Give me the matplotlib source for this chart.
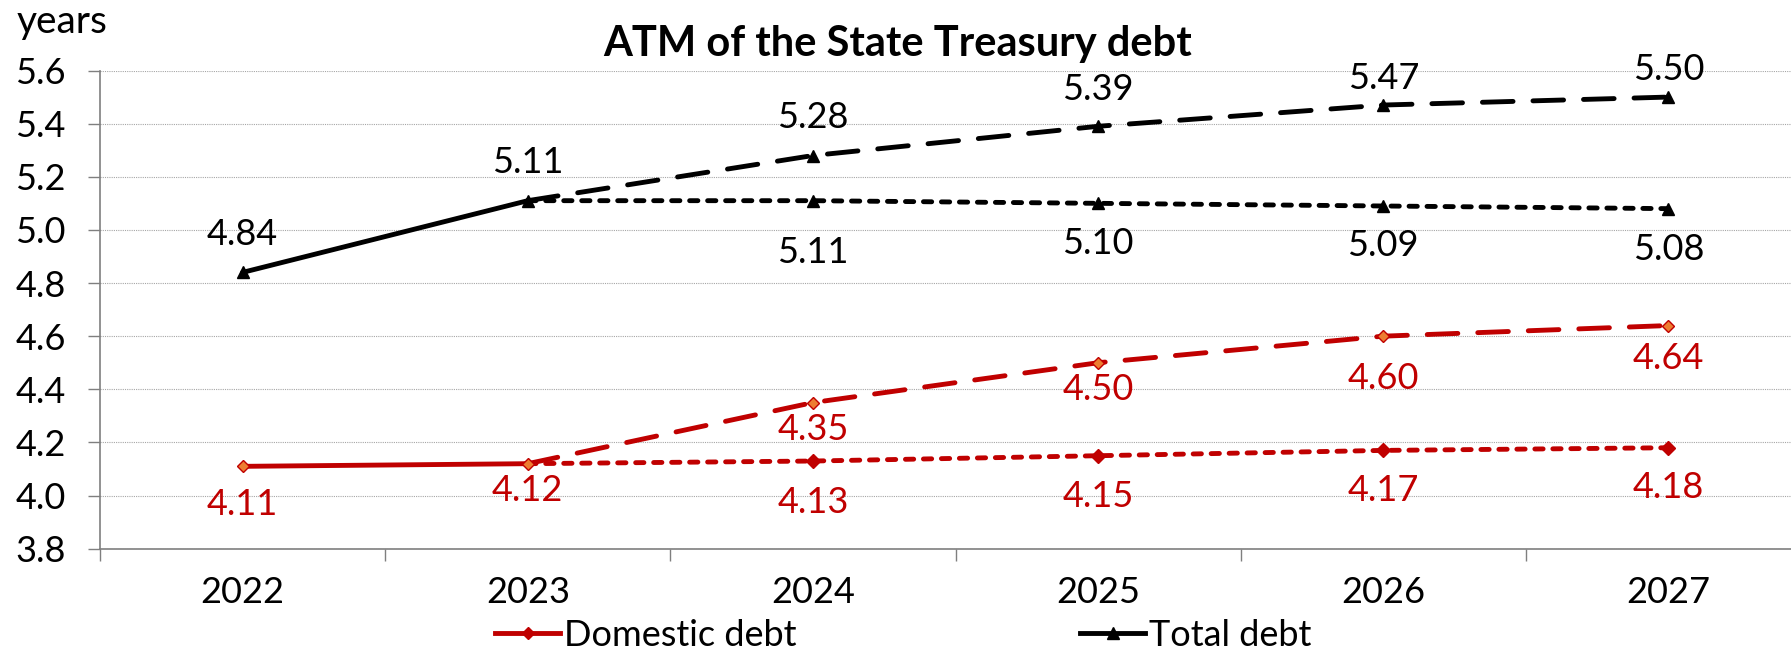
import matplotlib
matplotlib.use("Agg")
import matplotlib.pyplot as plt
from matplotlib.lines import Line2D
import numpy as np

plt.rcParams['font.family'] = ['Lato', 'DejaVu Sans']

# ---- data ----
years = ['2022', '2023', '2024', '2025', '2026', '2027']
domestic_actual = [4.11, 4.12]
domestic_long = [4.35, 4.50, 4.60, 4.64]
domestic_short = [4.13, 4.15, 4.17, 4.18]
total_actual = [4.84, 5.11]
total_long = [5.28, 5.39, 5.47, 5.50]
total_short = [5.11, 5.10, 5.09, 5.08]
yticks = [3.8, 4.0, 4.2, 4.4, 4.6, 4.8, 5.0, 5.2, 5.4, 5.6]

# label offsets (pixels, + = downward)
off_dom_actual = [38, 27]
off_dom_long = [27, 27, 42, 33]
off_dom_short = [41, 41, 40, 40]
off_tot_actual = [-38, -38]
off_tot_long = [-38, -37, -27, -28]
off_tot_short = [52, 40, 40, 41]

RED = '#C00000'
ORANGE = '#ED7D31'
DPI = 100
W, H = 1791, 655

fig = plt.figure(figsize=(W / DPI, H / DPI), dpi=DPI)
ax = fig.add_axes([100 / W, 1 - 548.7 / H, 1711 / W, (548.7 - 70.5) / H])

x_act = np.arange(len(domestic_actual))
x_fc = np.arange(len(domestic_actual) - 1, len(years))

LW = 3.5
long_dash = (6.3, 4.1)
short_dash = (1.7, 2.0)

# Domestic
ax.plot(x_act, domestic_actual, color=RED, lw=LW, solid_capstyle='round',
        marker='D', ms=6, mfc=ORANGE, mec=RED, mew=1, zorder=4)
ax.plot(x_fc, [domestic_actual[-1]] + domestic_long, color=RED, lw=LW,
        dashes=long_dash, dash_capstyle='round', zorder=3)
ax.plot(x_fc[1:], domestic_long, ls='none', marker='D', ms=6, mfc=ORANGE,
        mec=RED, mew=1, zorder=5)
ax.plot(x_fc, [domestic_actual[-1]] + domestic_short, color=RED, lw=LW,
        dashes=short_dash, dash_capstyle='round', zorder=3)
ax.plot(x_fc[1:], domestic_short, ls='none', marker='D', ms=7, mfc=RED,
        mec=RED, mew=1, zorder=5)

# Total
ax.plot(x_act, total_actual, color='black', lw=LW, solid_capstyle='round',
        marker='^', ms=9, mfc='black', mec='black', zorder=4)
ax.plot(x_fc, [total_actual[-1]] + total_long, color='black', lw=LW,
        dashes=long_dash, dash_capstyle='round', zorder=3)
ax.plot(x_fc[1:], total_long, ls='none', marker='^', ms=9, color='black', zorder=5)
ax.plot(x_fc, [total_actual[-1]] + total_short, color='black', lw=LW,
        dashes=short_dash, dash_capstyle='round', zorder=3)
ax.plot(x_fc[1:], total_short, ls='none', marker='^', ms=9, color='black', zorder=5)

LFS = 26


def labels(xs, vals, offs, color):
    for xi, v, o in zip(xs, vals, offs):
        ax.annotate(f'{v:.2f}', (xi, v), xytext=(0, -o * 72 / DPI),
                    textcoords='offset points', ha='center', va='center',
                    fontsize=LFS, color=color, zorder=6)


labels(x_act, domestic_actual, off_dom_actual, RED)
labels(x_fc[1:], domestic_long, off_dom_long, RED)
labels(x_fc[1:], domestic_short, off_dom_short, RED)
labels(x_act, total_actual, off_tot_actual, 'black')
labels(x_fc[1:], total_long, off_tot_long, 'black')
labels(x_fc[1:], total_short, off_tot_short, 'black')

# axes
ax.set_xlim(-0.5, len(years) - 0.5)
ax.set_ylim(yticks[0], yticks[-1])
ax.set_yticks(yticks)
ax.set_yticklabels([f'{t:.1f}' for t in yticks])
ax.set_xticks(np.arange(len(years)))
ax.set_xticklabels(years)
ax.set_xticks(np.arange(-0.5, len(years), 1), minor=True)
ax.tick_params(axis='x', which='major', length=0, pad=20, labelsize=LFS)
ax.tick_params(axis='x', which='minor', length=8.6, width=1, color='#7f7f7f')
ax.tick_params(axis='y', which='major', length=8.6, width=1, color='#7f7f7f',
               pad=16, labelsize=LFS)
for s in ['top', 'right']:
    ax.spines[s].set_visible(False)
for s in ['left', 'bottom']:
    ax.spines[s].set_color('#7f7f7f')
    ax.spines[s].set_linewidth(1.2)
ax.grid(axis='y', color='#a6a6a6', ls=(0, (1, 1)), lw=0.8)
ax.set_axisbelow(True)

fig.text(898 / W, 1 - 44 / H, 'ATM of the State Treasury debt', ha='center',
         va='center', fontsize=30, fontweight='bold')
fig.text(17 / W, 1 - 33 / H, 'years', ha='left', va='baseline', fontsize=28)

# legend
h_dom = Line2D([], [], color=RED, lw=LW, marker='D', ms=6, mfc=RED, mec=RED)
h_tot = Line2D([], [], color='black', lw=LW, marker='^', ms=9, mfc='black', mec='black')
for h, lab, x0 in [(h_dom, 'Domestic debt', 495), (h_tot, 'Total debt', 1080)]:
    leg = fig.legend([h], [lab], loc='center left',
                     bbox_to_anchor=(x0 / W, 1 - 635 / H), frameon=False,
                     fontsize=LFS, handlelength=1.8, handletextpad=0.1,
                     borderpad=0, borderaxespad=0)

fig.savefig('out.png', dpi=DPI)
